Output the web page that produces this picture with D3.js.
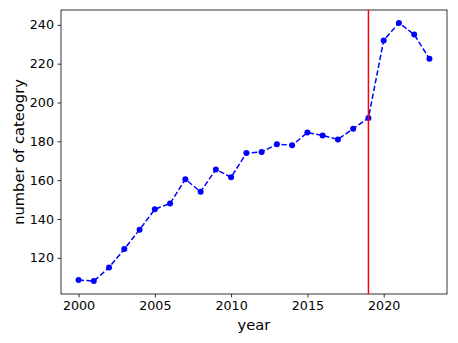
<!DOCTYPE html>
<html>
<head>
<meta charset="utf-8">
<script src="https://cdn.jsdelivr.net/npm/d3@7"></script>
<style>
  body { margin: 0; background: white; }
  text { font-family: "DejaVu Sans", sans-serif; fill: #000; }
</style>
</head>
<body>
<div id="chart"></div>
<script>
// data
var years = [2000, 2001, 2002, 2003, 2004, 2005, 2006, 2007, 2008, 2009, 2010, 2011,
             2012, 2013, 2014, 2015, 2016, 2017, 2018, 2019, 2020, 2021, 2022, 2023];
var counts = [108.5, 108, 115, 124.5, 134.5, 145, 148, 160.5, 154, 165.5, 161.5, 174,
              174.5, 178.5, 178, 184.5, 183, 181, 186.5, 192, 232, 241, 235, 222.5];
var xTicks = [2000, 2005, 2010, 2015, 2020];
var yTicks = [120, 140, 160, 180, 200, 220, 240];
var markYear = 2019;

var width = 458, height = 343;
var margin = {left: 61, right: 11, top: 10, bottom: 49};

var svg = d3.select("#chart")
    .append("svg")
    .attr("width", width)
    .attr("height", height);

svg.append("rect")
    .attr("width", "100%")
    .attr("height", "100%")
    .attr("fill", "white");

// matplotlib-like 5% padding
var xMin = d3.min(years), xMax = d3.max(years);
var yMin = d3.min(counts), yMax = d3.max(counts);
var xPad = (xMax - xMin) * 0.05, yPad = (yMax - yMin) * 0.05;

var x = d3.scaleLinear()
    .domain([xMin - xPad, xMax + xPad])
    .range([margin.left, width - margin.right]);

var y = d3.scaleLinear()
    .domain([yMin - yPad, yMax + yPad])
    .range([height - margin.bottom, margin.top]);

var xAxis = svg.append("g")
    .attr("transform", "translate(0," + (height - margin.bottom) + ")")
    .call(d3.axisBottom(x).tickValues(xTicks).tickFormat(d3.format("d")).tickSizeOuter(0).tickSize(3.5).tickPadding(3.5));

var yAxis = svg.append("g")
    .attr("transform", "translate(" + margin.left + ",0)")
    .call(d3.axisLeft(y).tickValues(yTicks).tickSizeOuter(0).tickSize(3.5).tickPadding(3.5));

[xAxis, yAxis].forEach(function(a) {
    a.select(".domain").remove();
    a.selectAll("line").attr("stroke", "#000").attr("stroke-width", 0.8);
    a.selectAll("text").style("font-size", "12.7px").attr("font-family", "DejaVu Sans");
});

// frame
svg.append("rect")
    .attr("x", margin.left)
    .attr("y", margin.top)
    .attr("width", width - margin.left - margin.right)
    .attr("height", height - margin.top - margin.bottom)
    .attr("fill", "none")
    .attr("stroke", "#000")
    .attr("stroke-width", 0.8);

var line = d3.line()
    .x(function(d, i) { return x(years[i]); })
    .y(function(d) { return y(d); });

svg.append("path")
    .datum(counts)
    .attr("d", line)
    .attr("fill", "none")
    .attr("stroke", "#0000ff")
    .attr("stroke-width", 1.5)
    .attr("stroke-dasharray", "5.5,2.4");

svg.append("g")
    .selectAll("circle")
    .data(counts)
    .enter().append("circle")
    .attr("cx", function(d, i) { return x(years[i]); })
    .attr("cy", function(d) { return y(d); })
    .attr("r", 3)
    .attr("fill", "#0000ff");

// red vertical marker
svg.append("line")
    .attr("x1", x(markYear))
    .attr("x2", x(markYear))
    .attr("y1", margin.top)
    .attr("y2", height - margin.bottom)
    .attr("stroke", "#ff0000")
    .attr("stroke-width", 1.5);

svg.append("text")
    .attr("x", (margin.left + width - margin.right) / 2)
    .attr("y", 330)
    .attr("text-anchor", "middle")
    .style("font-size", "14.7px")
    .text("year");

svg.append("text")
    .attr("transform", "translate(24," + ((margin.top + height - margin.bottom) / 2) + ") rotate(-90)")
    .attr("text-anchor", "middle")
    .style("font-size", "14.7px")
    .text("number of cateogry");
</script>
</body>
</html>
